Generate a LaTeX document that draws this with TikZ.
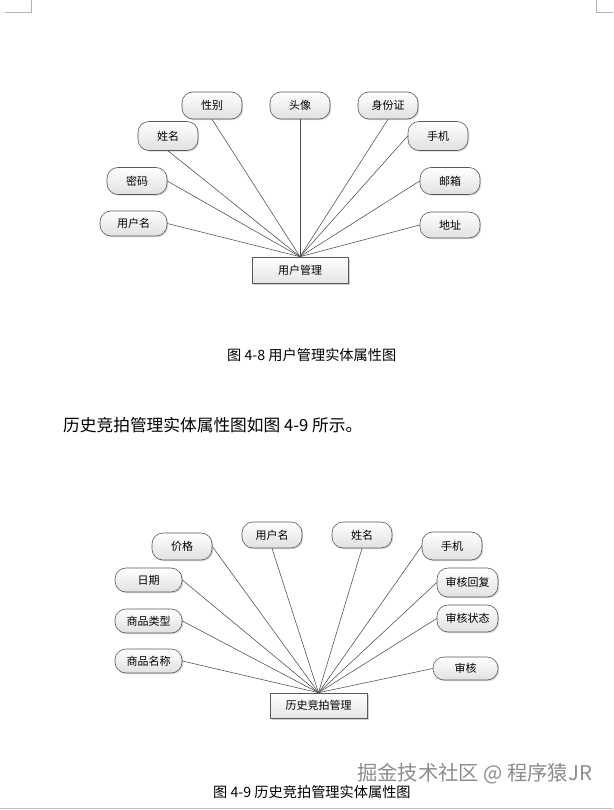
\documentclass[tikz,border=0pt]{standalone}
\usepackage{fontspec}
\setmainfont{Noto Sans CJK SC}
\usetikzlibrary{shadows}
\begin{document}
\begin{tikzpicture}[x=1pt,y=-1pt,
  attr/.style={draw=black!65, line width=0.6pt, rounded corners=11pt, top color=white, bottom color=black!12,
    drop shadow={shadow xshift=1.2pt, shadow yshift=-1.2pt, fill=black!25, opacity=0.6},
    minimum width=60pt, minimum height=27pt, inner sep=0pt, font=\fontsize{11}{12}\selectfont},
  ent/.style={draw=black!65, line width=0.6pt, top color=white, bottom color=black!10,
    drop shadow={shadow xshift=1.5pt, shadow yshift=-1.5pt, fill=black!30, opacity=0.6},
    minimum width=96pt, minimum height=26pt, inner sep=0pt, font=\fontsize{11}{12}\selectfont},
  link/.style={draw=black!70, line width=0.55pt},
  cornermark/.style={draw=black!30, line width=0.8pt},
  captxt/.style={font=\fontsize{14.2}{16}\selectfont, inner sep=0pt}
]
\useasboundingbox (0,0) rectangle (613,810);
\fill[white] (0,0) rectangle (613,810);
% page corner marks
\coordinate (c1) at (5,12); \coordinate (c2) at (31,12); \coordinate (c3) at (31,0);
\draw[cornermark] (c1) -- (c2) -- (c3);
\coordinate (c4) at (596,0); \coordinate (c5) at (596,12); \coordinate (c6) at (613,12);
\draw[cornermark] (c4) -- (c5) -- (c6);
\coordinate (b1) at (0,808.5); \coordinate (b2) at (613,808.5);
\draw[draw=black!25, line width=1.2pt] (b1) -- (b2);

% ---- top diagram
\node[ent] (um) at (300,270) {用户管理};
\node[attr] (xb) at (212,105.5) {性别};
\node[attr] (tx) at (300,105.5) {头像};
\node[attr] (sfz) at (388,105.5) {身份证};
\node[attr, minimum height=29pt] (xm) at (168,136) {姓名};
\node[attr, minimum height=29pt] (sj) at (438,136) {手机};
\node[attr] (mm) at (137,181) {密码};
\node[attr] (yx) at (450,181) {邮箱};
\node[attr, minimum width=67pt, minimum height=25pt] (yhm) at (133.5,223.5) {用户名};
\node[attr, minimum height=26pt] (dz) at (450,225) {地址};
\foreach \n in {xb,tx,sfz,xm} \draw[link] (\n.south) -- (um.north);
\foreach \n in {sj,yx,dz} \draw[link] (\n.west) -- (um.north);
\foreach \n in {mm,yhm} \draw[link] (\n.east) -- (um.north);

\node[captxt, anchor=west] (cap1) at (227,355) {图 4-8 用户管理实体属性图};
\node[anchor=west, inner sep=0pt, font=\fontsize{16.7}{18}\selectfont] (body) at (63,425) {历史竞拍管理实体属性图如图 4-9 所示。};

% ---- bottom diagram
\node[ent, minimum width=97pt, minimum height=25pt] (ls) at (318.5,705.5) {历史竞拍管理};
\node[attr] (jg) at (182,546.5) {价格};
\node[attr, minimum height=26pt] (yhm2) at (272,535) {用户名};
\node[attr, minimum height=26pt] (xm2) at (362,535) {姓名};
\node[attr, minimum height=28pt] (sj2) at (452,546) {手机};
\node[attr, minimum width=67pt, minimum height=24pt] (rq) at (148.5,580) {日期};
\node[attr, minimum width=61pt, minimum height=29pt] (hf) at (467.5,582.5) {审核回复};
\node[attr, minimum width=67pt, minimum height=24pt] (lx) at (148.5,621) {商品类型};
\node[attr, minimum width=61pt, minimum height=27pt] (zt) at (467.5,618.5) {审核状态};
\node[attr, minimum width=67pt, minimum height=24pt] (mc) at (148.5,661) {商品名称};
\node[attr, minimum width=65pt, minimum height=23pt] (sh) at (465.5,668.5) {审核};
\foreach \n in {yhm2,xm2} \draw[link] (\n.south) -- (ls.north);
\foreach \n in {jg,rq,lx,mc} \draw[link] (\n.east) -- (ls.north);
\foreach \n in {sj2,hf,zt,sh} \draw[link] (\n.west) -- (ls.north);

\node[captxt, anchor=west] (cap2) at (213,792) {图 4-9 历史竞拍管理实体属性图};
\node[anchor=west, inner sep=0pt, text=black!45, font=\fontsize{20.3}{22}\selectfont] (wm) at (357,774) {掘金技术社区 @ 程序猿JR};
\end{tikzpicture}
\end{document}
